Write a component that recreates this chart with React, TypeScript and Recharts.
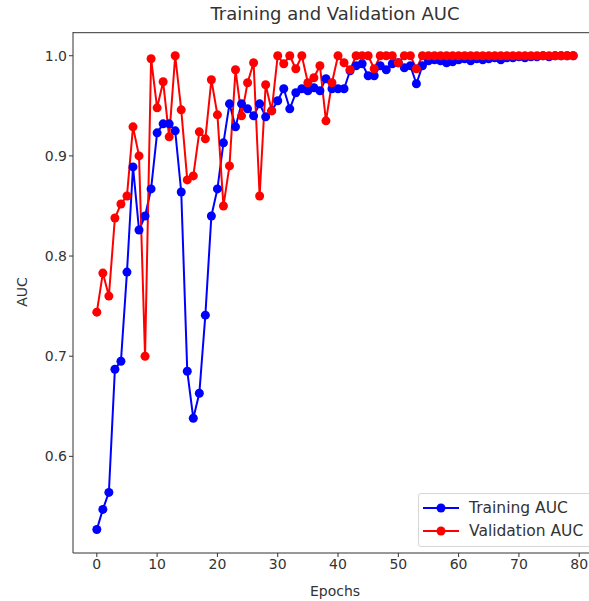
import { Line, LineChart, ReferenceLine, XAxis, YAxis } from "recharts";

// AUC per epoch
const trainingAuc = [
  0.527, 0.547, 0.564, 0.687, 0.695, 0.784, 0.889, 0.826, 0.84, 0.867,
  0.923, 0.932, 0.932, 0.925, 0.864, 0.685, 0.638, 0.663, 0.741, 0.84,
  0.867, 0.913, 0.952, 0.929, 0.952, 0.947, 0.94, 0.952, 0.939, 0.945,
  0.955, 0.967, 0.947, 0.963, 0.967, 0.965, 0.968, 0.965, 0.977, 0.967,
  0.967, 0.967, 0.985, 0.99, 0.992, 0.98, 0.98, 0.99, 0.986, 0.992,
  0.993, 0.988, 0.99, 0.972, 0.99, 0.995, 0.996, 0.995, 0.993, 0.994,
  0.996, 0.997, 0.995, 0.997, 0.996, 0.997, 0.998, 0.996, 0.998, 0.998,
  0.999, 0.998, 0.999, 0.999, 1.0, 0.999, 1.0, 1.0, 1.0, 1.0,
];

const validationAuc = [
  0.744, 0.783, 0.76, 0.838, 0.852, 0.86, 0.929, 0.9, 0.7, 0.997,
  0.948, 0.974, 0.919, 1.0, 0.946, 0.876, 0.88, 0.924, 0.917, 0.976,
  0.941, 0.85, 0.89, 0.986, 0.94, 0.973, 0.993, 0.86, 0.971, 0.945,
  1.0, 0.992, 1.0, 0.987, 1.0, 0.973, 0.978, 0.99, 0.935, 0.973,
  1.0, 0.993, 0.986, 1.0, 1.0, 1.0, 0.987, 1.0, 1.0, 1.0,
  0.993, 1.0, 1.0, 0.987, 1.0, 1.0, 1.0, 1.0, 1.0, 1.0,
  1.0, 1.0, 1.0, 1.0, 1.0, 1.0, 1.0, 1.0, 1.0, 1.0,
  1.0, 1.0, 1.0, 1.0, 1.0, 1.0, 1.0, 1.0, 1.0, 1.0,
];

const xTicks = [0, 10, 20, 30, 40, 50, 60, 70, 80];
const yTicks = [0.6, 0.7, 0.8, 0.9, 1.0];

const X_DOMAIN: [number, number] = [-3.95, 82.95];
const Y_DOMAIN: [number, number] = [0.5035, 1.0237];

const FONT = "'DejaVu Sans', sans-serif";
const INK = "#333";

const data = trainingAuc.map((t, i) => ({ epoch: i, train: t, val: validationAuc[i] }));

function LegendBox() {
  const items = [
    { label: "Training AUC", color: "#0000ff" },
    { label: "Validation AUC", color: "#ff0000" },
  ];
  return (
    <div
      style={{
        position: "absolute",
        left: 418,
        top: 493,
        width: 200,
        height: 50,
        border: "1px solid #d6d6d6",
        borderRadius: 3,
        background: "rgba(255,255,255,0.85)",
        padding: "2px 0 0 4px",
        fontFamily: FONT,
        fontSize: 15.5,
        color: INK,
        whiteSpace: "nowrap",
        zIndex: 2,
      }}
    >
      {items.map((it) => (
        <div key={it.label} style={{ display: "flex", alignItems: "center", height: 23 }}>
          <svg width={36} height={12} style={{ marginRight: 10 }}>
            <line x1={0} y1={6} x2={36} y2={6} stroke={it.color} strokeWidth={2} />
            <circle cx={18} cy={6} r={4.5} fill={it.color} />
          </svg>
          <span>{it.label}</span>
        </div>
      ))}
    </div>
  );
}

export default function App() {
  return (
    <div style={{ position: "absolute", left: 0, top: 0, width: 589, height: 601, overflow: "hidden", background: "#fff" }}>
      <div
        style={{
          position: "absolute",
          top: 3,
          left: 0,
          width: 670,
          textAlign: "center",
          fontFamily: FONT,
          fontSize: 18,
          color: INK,
        }}
      >
        Training and Validation AUC
      </div>
      <div
        style={{
          position: "absolute",
          left: 22,
          top: 292,
          transform: "translate(-50%, -50%) rotate(-90deg)",
          fontFamily: FONT,
          fontSize: 14,
          color: INK,
        }}
      >
        AUC
      </div>
      <div
        style={{
          position: "absolute",
          top: 583,
          left: 0,
          width: 670,
          textAlign: "center",
          fontFamily: FONT,
          fontSize: 14,
          color: INK,
        }}
      >
        Epochs
      </div>
      <LineChart width={600} height={601} data={data} margin={{ top: 32, right: 3, left: 0, bottom: 0 }}>
        <XAxis
          dataKey="epoch"
          type="number"
          domain={X_DOMAIN}
          ticks={xTicks}
          allowDataOverflow
          height={48}
          stroke={INK}
          tickSize={4}
          tick={{ fontSize: 14, fill: INK, fontFamily: FONT }}
        />
        <YAxis
          type="number"
          domain={Y_DOMAIN}
          ticks={yTicks}
          allowDataOverflow
          width={73}
          stroke={INK}
          tickSize={4}
          tickFormatter={(v: number) => v.toFixed(1)}
          tick={{ fontSize: 14, fill: INK, fontFamily: FONT }}
        />
        {/* top spine of the axes box */}
        <ReferenceLine y={1.023} stroke={INK} strokeWidth={1} ifOverflow="visible" />
        <Line
          dataKey="train"
          stroke="#0000ff"
          strokeWidth={2}
          dot={{ r: 4.5, fill: "#0000ff", stroke: "#0000ff", strokeWidth: 0 }}
          isAnimationActive={false}
        />
        <Line
          dataKey="val"
          stroke="#ff0000"
          strokeWidth={2}
          dot={{ r: 4.5, fill: "#ff0000", stroke: "#ff0000", strokeWidth: 0 }}
          isAnimationActive={false}
        />
      </LineChart>
      <LegendBox />
    </div>
  );
}
